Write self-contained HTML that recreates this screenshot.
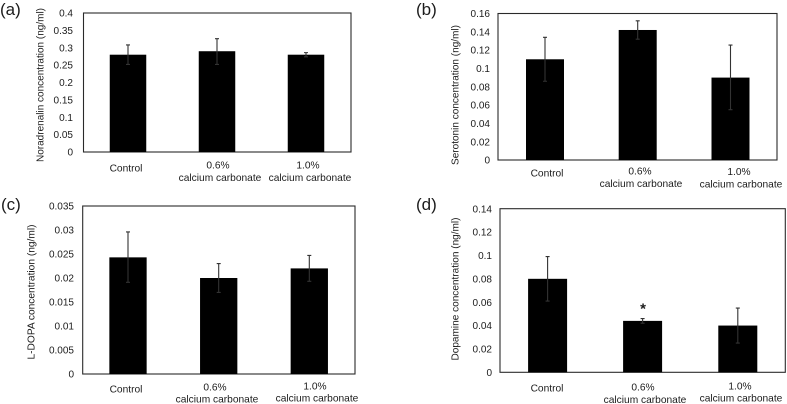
<!DOCTYPE html>
<html lang="en">
<head>
<meta charset="utf-8">
<title>Neurotransmitter concentration bar charts</title>
<style>
html,body{margin:0;padding:0;background:#fff;width:787px;height:404px;overflow:hidden}
svg{display:block;font-family:"Liberation Sans",Arial,sans-serif;filter:blur(0.3px)}
text{fill:#1c1c1c}
</style>
</head>
<body>
<svg id="figure" xmlns="http://www.w3.org/2000/svg" width="787" height="404" viewBox="0 0 787 404"></svg>
<script>
const categories = ['Control', '0.6%|calcium carbonate', '1.0%|calcium carbonate'];

const aValues = [0.28, 0.29, 0.28];
const aHigh = [0.308, 0.326, 0.286];
const aLow = [0.252, 0.252, 0.274];
const aTicks = ['0', '0.05', '0.1', '0.15', '0.2', '0.25', '0.3', '0.35', '0.4'];

const bValues = [0.11, 0.142, 0.09];
const bHigh = [0.134, 0.152, 0.1255];
const bLow = [0.086, 0.132, 0.055];
const bTicks = ['0', '0.02', '0.04', '0.06', '0.08', '0.1', '0.12', '0.14', '0.16'];

const cValues = [0.0243, 0.02, 0.022];
const cHigh = [0.0296, 0.023, 0.0247];
const cLow = [0.0191, 0.017, 0.0193];
const cTicks = ['0', '0.005', '0.01', '0.015', '0.02', '0.025', '0.03', '0.035'];

const dValues = [0.08, 0.044, 0.04];
const dHigh = [0.099, 0.046, 0.055];
const dLow = [0.061, 0.042, 0.025];
const dTicks = ['0', '0.02', '0.04', '0.06', '0.08', '0.1', '0.12', '0.14'];

const NS = 'http://www.w3.org/2000/svg';
const figure = document.getElementById('figure');

function make(tag, parent, props, content) {
  const el = document.createElementNS(NS, tag);
  for (const k in props) el.setAttribute(k, props[k]);
  if (content !== undefined) el.textContent = content;
  parent.appendChild(el);
  return el;
}

function drawPanel(p) {
  const g = make('g', figure, {});
  
  

  const maxV = parseFloat(p.ticks[p.ticks.length - 1]);
  const y = v => p.bottom - (v / maxV) * (p.bottom - p.top);

  const letter = make('text', g, {x: p.letterX, y: p.letterY, 'font-size': 17}, '(' + p.id + ')');
  
  

  const frame = make('rect', g, {x: p.left, y: p.top, width: p.right - p.left, height: p.bottom - p.top, fill: 'none', stroke: '#2a2a2a', 'stroke-width': 1.1});
  
  

  const title = make('text', g, {
    x: p.titleX, y: p.titleY, 'font-size': 10, 'text-anchor': 'middle',
    textLength: p.titleLen, lengthAdjust: 'spacingAndGlyphs',
    transform: 'rotate(-90 ' + p.titleX + ' ' + p.titleY + ')', 'dominant-baseline': 'central'
  }, p.title);
  
  

  p.ticks.forEach(t => {
    const tick = make('text', g, {x: p.tickX, y: y(parseFloat(t)) + 3.6, 'font-size': 10, 'text-anchor': 'end'}, t);
    
    
  });

  p.values.forEach((v, i) => {
    const cx = p.centers[i];
    const bar = make('rect', g, {x: cx - p.barW / 2, y: y(v), width: p.barW, height: p.bottom - y(v), fill: '#000'});
    
    

    const err = make('path', g, {
      d: 'M' + cx + ' ' + y(p.high[i]) + 'V' + y(p.low[i]) +
         'M' + (cx - 2) + ' ' + y(p.high[i]) + 'H' + (cx + 2) +
         'M' + (cx - 2) + ' ' + y(p.low[i]) + 'H' + (cx + 2),
      fill: 'none', stroke: '#333', 'stroke-width': 1.1
    });
    
    

    const parts = categories[i].split('|');
    parts.forEach((line, j) => {
      const pos = p.labels[i][j];
      const lab = make('text', g, {x: pos[0], y: pos[1] + 3.5, 'font-size': 10.2, 'text-anchor': 'middle'}, line);
      
      
    });
  });
}

drawPanel({
  id: 'a', title: 'Noradrenalin concentration (ng/ml)', titleLen: 154, ticks: aTicks, values: aValues, high: aHigh, low: aLow,
  left: 83.5, right: 351, top: 13, bottom: 152, barW: 36.5, centers: [128, 217, 306],
  tickX: 73, titleX: 41, titleY: 85, letterX: 0, letterY: 15,
  labels: [[[126, 168]], [[218, 165], [220, 177.5]], [[308, 165], [310, 177.5]]]
});
drawPanel({
  id: 'b', title: 'Serotonin concentration (ng/ml)', titleLen: 140, ticks: bTicks, values: bValues, high: bHigh, low: bLow,
  left: 498, right: 777, top: 13.5, bottom: 160, barW: 38, centers: [545, 637.7, 730.5],
  tickX: 490, titleX: 456, titleY: 95, letterX: 416, letterY: 15,
  labels: [[[547, 173]], [[640, 171], [641, 183.5]], [[739, 171.5], [741, 184]]]
});
drawPanel({
  id: 'c', title: 'L-DOPA concentration (ng/ml)', titleLen: 135, ticks: cTicks, values: cValues, high: cHigh, low: cLow,
  left: 82.7, right: 355, top: 206, bottom: 374, barW: 37.3, centers: [128, 218.7, 309.3],
  tickX: 74, titleX: 32, titleY: 292, letterX: 1, letterY: 210,
  labels: [[[126, 389]], [[215, 387], [217, 399]], [[315, 386], [317, 398]]]
});
drawPanel({
  id: 'd', title: 'Dopamine concentration (ng/ml)', titleLen: 143, ticks: dTicks, values: dValues, high: dHigh, low: dLow,
  left: 500, right: 785.3, top: 208.7, bottom: 372.3, barW: 39, centers: [547.6, 642.6, 737.8],
  tickX: 492, titleX: 456, titleY: 289, letterX: 416, letterY: 210,
  labels: [[[547, 388]], [[643, 387], [645, 399.5]], [[740, 386], [741, 398]]]
});

const star = make('text', figure, {x: 643, y: 313.5, 'font-size': 15, 'font-weight': 'bold', 'text-anchor': 'middle'}, '*');


</script>
</body>
</html>
